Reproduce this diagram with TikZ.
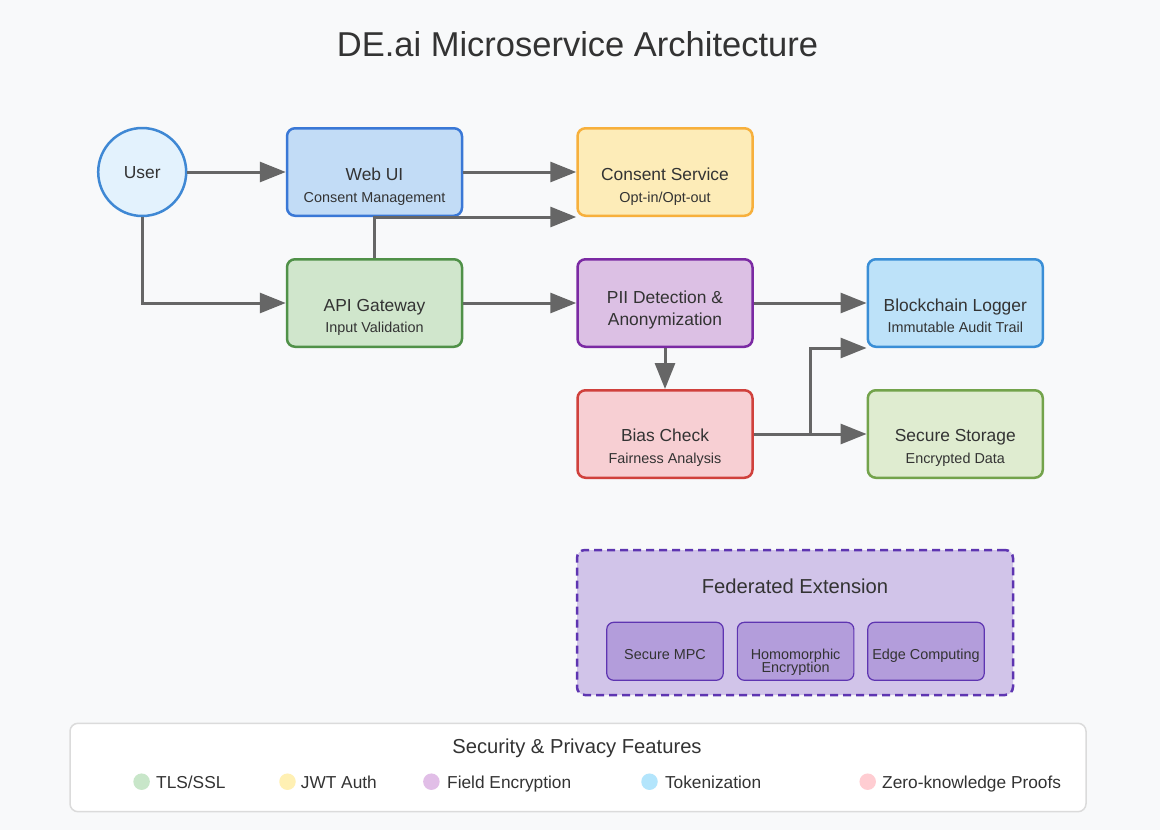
\documentclass[tikz,border=0pt]{standalone}
\usepackage{fontspec}
\setmainfont{Liberation Sans}
\usetikzlibrary{arrows.meta,calc}
\definecolor{bgc}{HTML}{F8F9FA}
\definecolor{txt}{HTML}{333333}
\definecolor{arrg}{HTML}{666666}
\definecolor{userF}{HTML}{E3F2FD}\definecolor{userD}{HTML}{3F88D4}
\definecolor{webF}{HTML}{C2DCF6}\definecolor{webD}{HTML}{3A78D6}
\definecolor{conF}{HTML}{FDECB8}\definecolor{conD}{HTML}{F7B03C}
\definecolor{apiF}{HTML}{D0E6CC}\definecolor{apiD}{HTML}{509148}
\definecolor{piiF}{HTML}{DCC0E4}\definecolor{piiD}{HTML}{7B2AA3}
\definecolor{blkF}{HTML}{BDE2F9}\definecolor{blkD}{HTML}{3A8ED6}
\definecolor{biaF}{HTML}{F7CFD3}\definecolor{biaD}{HTML}{D0413C}
\definecolor{stoF}{HTML}{DFECD0}\definecolor{stoD}{HTML}{73A34B}
\definecolor{fedF}{HTML}{D1C4E9}\definecolor{fedD}{HTML}{5E35B1}
\definecolor{fsubF}{HTML}{B39DDB}
\definecolor{legG}{HTML}{C8E6C9}\definecolor{legY}{HTML}{FFF0B3}
\definecolor{legP}{HTML}{E1BEE7}\definecolor{legB}{HTML}{B3E5FC}
\definecolor{legR}{HTML}{FFCDD2}
\newcommand\fnTitle{\fontsize{34.5}{40}\selectfont}
\newcommand\fnMain{\fontsize{17.4}{20}\selectfont}
\newcommand\fnSub{\fontsize{14.4}{17}\selectfont}
\newcommand\fnHead{\fontsize{20.2}{24}\selectfont}
\newcommand\fnLeg{\fontsize{17.3}{20}\selectfont}
\begin{document}
\begin{tikzpicture}[x=1pt,y=-1pt,
  svc/.style={draw, rounded corners=8pt, line width=2.5pt, minimum width=175pt, minimum height=87.5pt, inner sep=0pt},
  lbl/.style={text=txt, inner sep=0pt, anchor=base},
  mtxt/.style={lbl, font=\fnMain},
  stxt/.style={lbl, font=\fnSub},
  arr/.style={draw=arrg, line width=3pt, -{Triangle[length=26pt,width=20pt]}},
  fsub/.style={draw=fedD, fill=fsubF, line width=1.2pt, rounded corners=7pt, minimum width=116.5pt, minimum height=58pt, inner sep=0pt},
  legdot/.style={circle, minimum size=16.5pt, inner sep=0pt},
  legtxt/.style={text=txt, inner sep=0pt, anchor=base west, font=\fnLeg}]
\useasboundingbox (0,0) rectangle (1160,830);
\fill[bgc] (0,0) rectangle (1160,830);

% title
\node[lbl, font=\fnTitle] (title) at (577.5,56) {DE.ai Microservice Architecture};

% nodes
\node[circle, draw=userD, fill=userF, line width=2.5pt, minimum size=88pt, inner sep=0pt] (user) at (142.2,172) {};
\node[mtxt] (userT) at ([yshift=-6.5pt]user.center) {User};

\node[svc, draw=webD, fill=webF] (web) at (374.5,172) {};
\node[mtxt] (webT) at ([yshift=-8pt]web.center) {Web UI};
\node[stxt] (webS) at ([yshift=-30pt]web.center) {Consent Management};

\node[svc, draw=conD, fill=conF] (con) at (665,172) {};
\node[mtxt] (conT) at ([yshift=-8pt]con.center) {Consent Service};
\node[stxt] (conS) at ([yshift=-30pt]con.center) {Opt-in/Opt-out};

\node[svc, draw=apiD, fill=apiF] (api) at (374.5,303) {};
\node[mtxt] (apiT) at ([yshift=-8pt]api.center) {API Gateway};
\node[stxt] (apiS) at ([yshift=-29.5pt]api.center) {Input Validation};

\node[svc, draw=piiD, fill=piiF] (pii) at (665,303) {};
\node[mtxt] (piiT) at ([yshift=-0.5pt]pii.center) {PII Detection \&};
\node[mtxt] (piiS) at ([yshift=-22pt]pii.center) {Anonymization};

\node[svc, draw=blkD, fill=blkF] (blk) at (955.3,303) {};
\node[mtxt] (blkT) at ([yshift=-8pt]blk.center) {Blockchain Logger};
\node[stxt] (blkS) at ([yshift=-29.5pt]blk.center) {Immutable Audit Trail};

\node[svc, draw=biaD, fill=biaF] (bia) at (665,434) {};
\node[mtxt] (biaT) at ([yshift=-7.5pt]bia.center) {Bias Check};
\node[stxt] (biaS) at ([yshift=-29pt]bia.center) {Fairness Analysis};

\node[svc, draw=stoD, fill=stoF] (sto) at (955.3,434) {};
\node[mtxt] (stoT) at ([yshift=-7.5pt]sto.center) {Secure Storage};
\node[stxt] (stoS) at ([yshift=-29pt]sto.center) {Encrypted Data};

% connectors
\draw[arr] (user.east) -- (web.west);
\draw[arr] (user.south) |- (api.west);
\draw[arr] (web.east) -- (con.west);
\draw[arr] (api.north) |- (con.south west);
\draw[arr] (api.east) -- (pii.west);
\draw[arr] (pii.east) -- (blk.west);
\draw[arr] (pii.south) -- (bia.north);
\draw[arr] (bia.east) -- (sto.west);
\coordinate (split) at ($(bia.east)!0.5!(sto.west)$);
\draw[arr] (split) |- (blk.south west);

% federated extension
\node[draw=fedD, fill=fedF, line width=2.5pt, dash pattern=on 8pt off 5pt, rounded corners=8pt, minimum width=436pt, minimum height=145pt, inner sep=0pt] (fed) at (795,622.5) {};
\node[lbl, font=\fnHead] (fedT) at (795,593) {Federated Extension};
\node[fsub] (mpc) at (665,651.3) {};
\node[fsub] (homo) at (795.6,651.3) {};
\node[fsub] (edge) at (926,651.3) {};
\node[stxt] (mpcT) at ([yshift=-8pt]mpc.center) {Secure MPC};
\node[stxt] (homoT) at ([yshift=-7.7pt]homo.center) {Homomorphic};
\node[stxt] (homoS) at ([yshift=-21.4pt]homo.center) {Encryption};
\node[stxt] (edgeT) at ([yshift=-8pt]edge.center) {Edge Computing};

% legend
\node[draw=black!14, fill=white, line width=1.5pt, rounded corners=8pt, minimum width=1016pt, minimum height=88.4pt, inner sep=0pt] (leg) at (578,767.5) {};
\node[lbl, font=\fnHead] (legT) at (577,753.3) {Security \& Privacy Features};
\node[legdot, fill=legG] (d1) at (141.6,781.7) {};
\node[legtxt] (t1) at (156,788) {TLS/SSL};
\node[legdot, fill=legY] (d2) at (287.5,781.7) {};
\node[legtxt] (t2) at (300.7,788) {JWT Auth};
\node[legdot, fill=legP] (d3) at (431.4,781.7) {};
\node[legtxt] (t3) at (447,788) {Field Encryption};
\node[legdot, fill=legB] (d4) at (649.5,781.7) {};
\node[legtxt] (t4) at (664.8,788) {Tokenization};
\node[legdot, fill=legR] (d5) at (867.7,781.7) {};
\node[legtxt] (t5) at (882,788) {Zero-knowledge Proofs};
\end{tikzpicture}
\end{document}
